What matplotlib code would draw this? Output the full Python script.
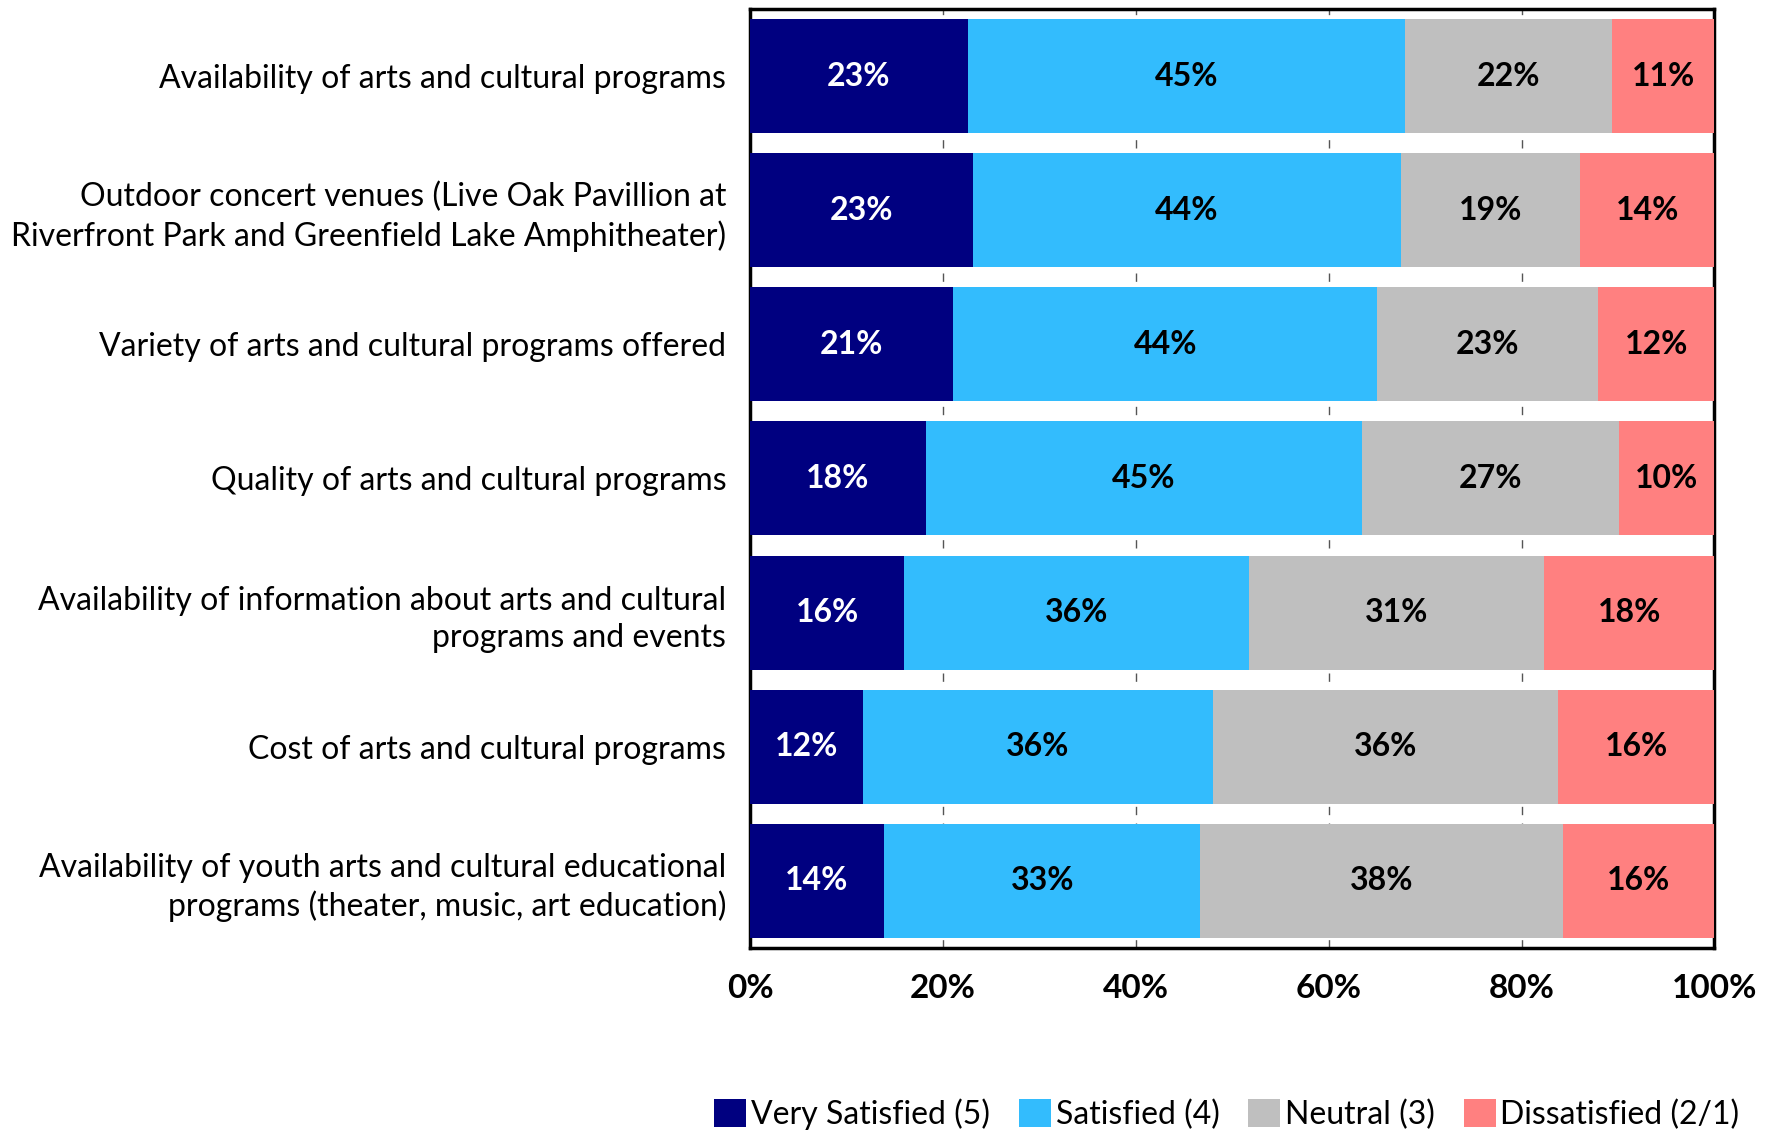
import matplotlib
matplotlib.use("Agg")
import matplotlib.pyplot as plt
import numpy as np

plt.rcParams['font.family'] = ['Lato', 'DejaVu Sans']

categories = [
    "Availability of arts and cultural programs",
    "Outdoor concert venues (Live Oak Pavillion at\nRiverfront Park and Greenfield Lake Amphitheater)",
    "Variety of arts and cultural programs offered",
    "Quality of arts and cultural programs",
    "Availability of information about arts and cultural\nprograms and events",
    "Cost of arts and cultural programs",
    "Availability of youth arts and cultural educational\nprograms (theater, music, art education)",
]
series_names = ["Very Satisfied (5)", "Satisfied (4)", "Neutral (3)", "Dissatisfied (2/1)"]
very_satisfied = [22.6, 23.1, 21.1, 18.2, 16.0, 11.7, 13.9]
satisfied = [45.3, 44.4, 43.9, 45.3, 35.7, 36.3, 32.8]
neutral = [21.5, 18.6, 22.9, 26.6, 30.6, 35.8, 37.6]
dissatisfied = [10.6, 13.9, 12.1, 9.9, 17.7, 16.2, 15.7]
x_ticks = [0, 20, 40, 60, 80, 100]

colors = ["#000080", "#33BCFD", "#BFBFBF", "#FF8080"]
text_colors = ["white", "black", "black", "black"]

fig = plt.figure(figsize=(17.73, 11.31), dpi=100)
ax = fig.add_axes([0.423, 0.162, 0.544, 0.830])

y = np.arange(len(categories))
left = np.zeros(len(categories))
for vals, name, col, tcol in zip([very_satisfied, satisfied, neutral, dissatisfied],
                                 series_names, colors, text_colors):
    vals = np.array(vals)
    ax.barh(y, vals, left=left, height=0.85, color=col, label=name, zorder=3)
    for yi, l, v in zip(y, left, vals):
        ax.text(l + v / 2, yi, f"{v:.0f}%", ha="center", va="center",
                color=tcol, fontsize=23, fontweight="bold", zorder=4)
    left += vals

ax.set_xlim(0, 100)
ax.set_ylim(len(categories) - 0.5, -0.5)
ax.set_yticks(y)
ax.set_yticklabels(categories, fontsize=23, ha="right", linespacing=1.3)
ax.set_xticks(x_ticks)
ax.set_xticklabels([f"{t}%" for t in x_ticks], fontsize=24, fontweight="bold")
ax.tick_params(axis="both", length=0)
ax.tick_params(axis="y", pad=17)
ax.tick_params(axis="x", pad=19)
ax.xaxis.grid(True, linestyle=(0, (6, 6)), color="#555555", linewidth=1.0, zorder=0)
for s in ax.spines.values():
    s.set_linewidth(2.5)
    s.set_color("black")

fig.legend(loc="center", bbox_to_anchor=(0.692, 0.015), ncol=4, frameon=False,
           fontsize=23, handlelength=1.0, handleheight=1.0, handletextpad=0.15,
           columnspacing=0.9, borderaxespad=0)

fig.savefig("out.png", dpi=100)
